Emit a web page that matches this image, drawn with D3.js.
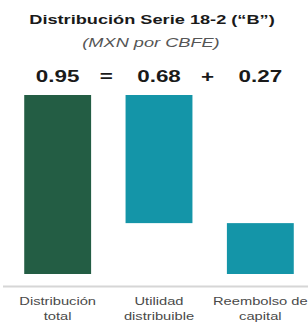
<html>
<head>
<script src="https://cdn.jsdelivr.net/npm/d3@7"></script>
<style>
body { margin: 0; background: #fff; }
svg text { font-family: "Liberation Sans", Arial, sans-serif; }
</style>
</head>
<body>
<svg id="chart"></svg>
<script type="text/javascript">
// data
var categories = [["Distribución", "total"], ["Utilidad", "distribuible"], ["Reembolso de", "capital"]];
var values = [0.95, 0.68, 0.27];
var starts = [0, 0.27, 0];
var valueLabels = ["0.95", "0.68", "0.27"];
var operators = ["=", "+"];
var colors = ["#235d44", "#1495a8", "#1495a8"];

var width = 308,
height = 322,
sx = 1.4; // text is drawn wide in the source

var svg = d3.select("#chart")
.attr("width", width)
.attr("height", height);

var x = d3.scaleBand()
.domain(d3.range(values.length))
.range([7, 311])
.paddingInner(0.34)
.paddingOuter(0.17);

var y = d3.scaleLinear()
.domain([0, 0.95])
.range([274, 95]);

function label(g, tx, ty, txt, size, weight, style, fill) {
  return g.append("text")
    .attr("transform", "translate(" + tx + "," + ty + ") scale(" + sx + ",1)")
    .attr("text-anchor", "middle")
    .style("font-size", size + "px")
    .style("font-weight", weight)
    .style("font-style", style)
    .style("fill", fill)
    .text(txt);
}

// titles
label(svg, 152, 24, "Distribución Serie 18-2 (“B”)", 13, "bold", "normal", "#1a1a1a");
label(svg, 151, 47, "(MXN por CBFE)", 13, "normal", "italic", "#555");

// bars
svg.selectAll("rect.bar")
.data(values)
.enter().append("rect")
  .attr("class", "bar")
  .attr("x", function(d, i) { return x(i); })
  .attr("width", x.bandwidth())
  .attr("y", function(d, i) { return y(starts[i] + d); })
  .attr("height", function(d, i) { return y(starts[i]) - y(starts[i] + d); })
  .style("fill", function(d, i) { return colors[i]; });

// value row
valueLabels.forEach(function(v, i) {
  label(svg, x(i) + x.bandwidth() / 2, 82, v, 16, "bold", "normal", "#1a1a1a");
});
operators.forEach(function(op, i) {
  var mid = (x(i) + x(i + 1) + x.bandwidth()) / 2;
  label(svg, mid - 2, 82, op, 16, "bold", "normal", "#1a1a1a");
});

// axis line
svg.append("line")
.attr("x1", 3).attr("x2", width)
.attr("y1", y(0) + 12.5).attr("y2", y(0) + 12.5)
.style("stroke", "#d6d6d6")
.style("stroke-width", 2);

// category labels
categories.forEach(function(c, i) {
  c.forEach(function(line, j) {
    label(svg, x(i) + x.bandwidth() / 2, 305 + j * 15, line, 10.5, "normal", "normal", "#4a4a4a");
  });
});
</script>
</body>
</html>
